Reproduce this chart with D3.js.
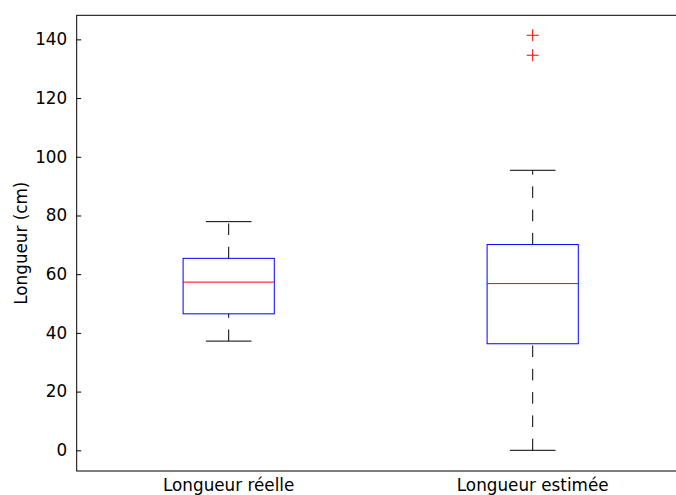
<!DOCTYPE html>
<html>
<head>
<meta charset="utf-8">
<script src="https://cdn.jsdelivr.net/npm/d3@7"></script>
<style>
  html, body { margin: 0; padding: 0; background: #fff; overflow: hidden; }
  svg { display: block; }
  text { font-family: "DejaVu Sans", sans-serif; fill: #000; }
</style>
</head>
<body>
<svg id="chart" width="676" height="495"></svg>
<script>
const categories = ["Longueur réelle", "Longueur estimée"];
const whiskerLow = [37.2, 0];
const q1 = [46.5, 36.3];
const median = [57.3, 56.8];
const q3 = [65.4, 70.1];
const whiskerHigh = [77.9, 95.4];
const outliers = [[], [141.4, 134.6]];
const yTicks = [0, 20, 40, 60, 80, 100, 120, 140];
const yLabel = "Longueur (cm)";

(function () {
const svg = d3.select("#chart");
const pLeft = 76.7, pRight = 684.7, pTop = 15.3, pBottom = 471;
const fs = 16.8;

const x = d3.scaleLinear().domain([0.5, 2.5]).range([pLeft, pRight]);
const y = d3.scaleLinear().domain([-7.05, 148.2]).range([pBottom, pTop]);

const boxW = 0.3, capW = 0.15;

// Y axis ticks (inside)
const yAxis = d3.axisLeft(y).tickValues(yTicks).tickSize(-4.5).tickPadding(9.5).tickFormat(d3.format("d"));
const gY = svg.append("g").attr("transform", `translate(${pLeft},0)`).call(yAxis);
gY.select(".domain").remove();
gY.selectAll(".tick line").attr("stroke", "#000").attr("stroke-width", 1);
gY.selectAll(".tick text").attr("font-size", fs).attr("font-family", "DejaVu Sans").attr("fill", "#000");

// X tick labels
const gX = svg.append("g");
categories.forEach((c, i) => {
  gX.append("text")
    .attr("x", x(i + 1))
    .attr("y", pBottom + 19.8)
    .attr("text-anchor", "middle")
    .attr("font-size", fs)
    .text(c);
});

// Y label
svg.append("text")
  .attr("transform", `translate(26.5,${(pTop + pBottom) / 2}) rotate(-90)`)
  .attr("text-anchor", "middle")
  .attr("font-size", fs)
  .text(yLabel);

// Boxes
const g = svg.append("g");
categories.forEach((c, i) => {
  const p = i + 1;
  g.append("line")
    .attr("x1", x(p)).attr("x2", x(p))
    .attr("y1", y(q3[i])).attr("y2", y(whiskerHigh[i]))
    .attr("stroke", "#000").attr("stroke-width", 1)
    .attr("stroke-dasharray", "11.6,11.7");
  g.append("line")
    .attr("x1", x(p)).attr("x2", x(p))
    .attr("y1", y(whiskerLow[i])).attr("y2", y(q1[i]))
    .attr("stroke", "#000").attr("stroke-width", 1)
    .attr("stroke-dasharray", "11.6,11.7");
  [whiskerLow[i], whiskerHigh[i]].forEach(v => {
    g.append("line")
      .attr("x1", x(p - capW / 2)).attr("x2", x(p + capW / 2))
      .attr("y1", y(v)).attr("y2", y(v))
      .attr("stroke", "#000").attr("stroke-width", 1);
  });
  g.append("rect")
    .attr("x", x(p - boxW / 2)).attr("y", y(q3[i]))
    .attr("width", x(p + boxW / 2) - x(p - boxW / 2))
    .attr("height", y(q1[i]) - y(q3[i]))
    .attr("fill", "none").attr("stroke", "#0000ff").attr("stroke-width", 1);
  g.append("line")
    .attr("x1", x(p - boxW / 2)).attr("x2", x(p + boxW / 2))
    .attr("y1", y(median[i])).attr("y2", y(median[i]))
    .attr("stroke", "#ff0000").attr("stroke-width", 1);
  outliers[i].forEach(v => {
    const cx = x(p), cy = y(v), s = 6;
    g.append("path")
      .attr("d", `M${cx - s},${cy}H${cx + s}M${cx},${cy - s}V${cy + s}`)
      .attr("stroke", "#ff0000").attr("stroke-width", 1).attr("fill", "none");
  });
});

// Spines
svg.append("rect")
  .attr("x", pLeft).attr("y", pTop)
  .attr("width", pRight - pLeft).attr("height", pBottom - pTop)
  .attr("fill", "none").attr("stroke", "#000").attr("stroke-width", 1);
})();
</script>
</body>
</html>
